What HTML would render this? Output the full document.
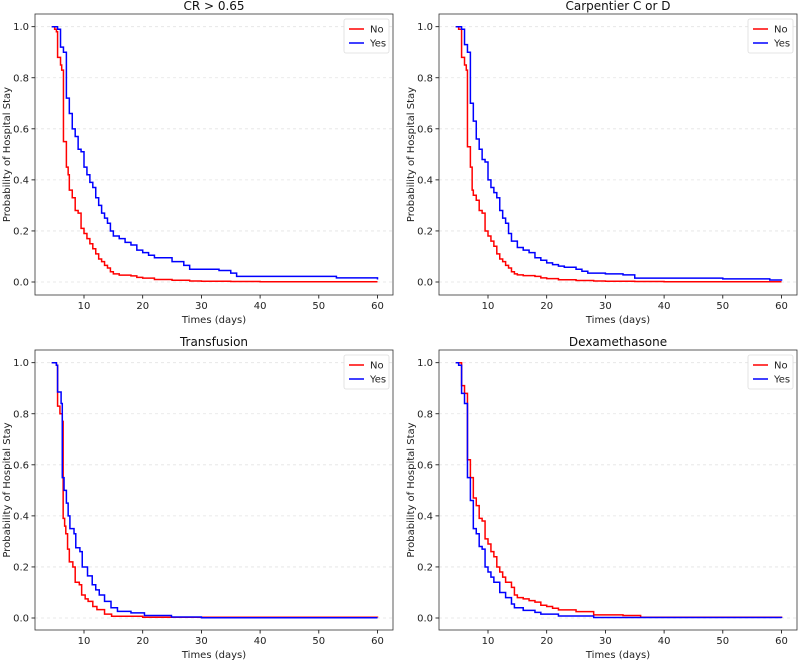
<!DOCTYPE html>
<html><head><meta charset="utf-8"><style>
html,body{margin:0;padding:0;background:#fff;}
svg{display:block;font-family:"DejaVu Sans","Liberation Sans",sans-serif;}
</style></head><body>
<svg id="fig" width="798" height="660" viewBox="0 0 798 660"></svg>
<script>
const panelTitles = ["CR > 0.65","Carpentier C or D","Transfusion","Dexamethasone"];
const seriesNames = ["No","Yes"];
const xTicks = [10,20,30,40,50,60];
const yTicks = [0,0.2,0.4,0.6,0.8,1.0];

const crNoT = [4.5,5,5.3,5.5,6,6.2,6.5,7,7.3,7.5,8,8.5,9,9.5,10,10.5,11,11.5,12,12.5,13,13.5,14,14.5,15,16,18,19,20,22,25,28,30,35,40,60];
const crNoS = [1,.99,.98,.88,.85,.83,.55,.45,.42,.36,.33,.28,.27,.21,.19,.17,.15,.13,.11,.09,.08,.065,.055,.04,.032,.027,.024,.018,.015,.01,.007,.004,.003,.002,.001,.001];
const crYesT = [4.5,5.5,6,6.5,7,7.5,8,8.5,9,9.5,10,10.5,11,11.5,12,12.5,13,13.5,14,14.5,15,16,17,18,19,20,21,22,25,27,28,33,35,36,53,60];
const crYesS = [1,.99,.92,.9,.72,.66,.6,.57,.52,.51,.45,.42,.39,.37,.33,.3,.27,.25,.23,.2,.18,.17,.155,.145,.125,.115,.105,.095,.08,.065,.05,.045,.035,.022,.016,.01];

const cpNoT = [4.5,5,5.5,6,6.3,6.5,7,7.3,7.5,8,8.5,9,9.5,10,10.5,11,11.5,12,12.5,13,13.5,14,14.5,15,16,18,19,20,22,25,28,30,35,40,60];
const cpNoS = [1,.99,.88,.85,.83,.53,.45,.36,.34,.32,.28,.27,.2,.18,.16,.14,.11,.09,.08,.065,.055,.04,.032,.028,.025,.022,.016,.013,.009,.006,.004,.003,.002,.001,.001];
const cpYesT = [4.5,5.5,6,6.5,7,7.5,8,8.5,9,9.5,10,10.5,11,11.5,12,12.5,13,13.5,14,15,16,17,18,19,20,21,22,23,25,26,27,30,33,35,50,58,60];
const cpYesS = [1,.99,.93,.9,.7,.63,.56,.52,.48,.47,.4,.37,.35,.33,.28,.25,.23,.19,.16,.135,.125,.115,.095,.085,.075,.068,.062,.058,.05,.042,.035,.032,.028,.015,.012,.008,.005];

const trNoT = [4.5,5.3,5.5,5.9,6.3,6.45,6.7,6.9,7.2,7.5,8.1,8.5,9.2,9.6,10.2,10.7,11.5,12.2,13.5,14.7,20,60];
const trNoS = [1,.99,.83,.8,.77,.39,.36,.33,.27,.22,.2,.14,.13,.09,.075,.065,.045,.033,.015,.007,.003,.002];
const trYesT = [4.5,5.3,5.5,6.1,6.3,6.6,7,7.3,7.6,8.3,8.6,9.3,9.7,10.6,11.4,12,12.6,13.5,14.6,15.7,18,20.3,24.9,30,60];
const trYesS = [1,.99,.885,.84,.55,.5,.45,.4,.35,.33,.275,.26,.2,.165,.13,.11,.09,.065,.04,.026,.02,.01,.004,.001,.001];

const dxNoT = [4.5,5.5,6,6.5,7,7.5,8,8.5,9,9.5,10,10.5,11,11.5,12,12.5,13,14,14.5,15,16,17,18,19,20,21,22,25,28,33,36,60];
const dxNoS = [1,.91,.88,.62,.55,.47,.44,.39,.38,.31,.29,.26,.24,.2,.18,.16,.14,.12,.09,.08,.075,.068,.062,.05,.045,.038,.032,.025,.012,.01,.003,0];
const dxYesT = [4.5,5,5.5,6,6.5,7,7.5,8,8.5,9,9.5,10,10.5,11,12,13,14,14.5,16,18,19,22,28,60];
const dxYesS = [1,.99,.88,.84,.55,.46,.35,.33,.28,.27,.2,.18,.16,.14,.1,.08,.055,.04,.03,.022,.015,.008,.002,0];

const panelData = [[[crNoT,crNoS],[crYesT,crYesS]],[[cpNoT,cpNoS],[cpYesT,cpYesS]],[[trNoT,trNoS],[trYesT,trYesS]],[[dxNoT,dxNoS],[dxYesT,dxYesS]]];

const NS="http://www.w3.org/2000/svg";
const svg=document.getElementById('fig');
function mk(tag,attrs,parent){const e=document.createElementNS(NS,tag);for(const k in attrs)e.setAttribute(k,attrs[k]);(parent||svg).appendChild(e);return e;}
const colors=["#ff0000","#0000ff"];
const layouts=[{l:35,r:393,t:14,b:295},{l:439,r:797,t:14,b:295},{l:35,r:393,t:350,b:630},{l:439,r:797,t:350,b:630}];
layouts.forEach((L,pi)=>{
  const g=mk('g',{});
  
  
  const x10=L.l+49, x60=L.l+342.5;
  const xs=v=>x10+(v-10)*(x60-x10)/50;
  const y1=L.t+12.7, y0=L.t+268;
  const ys=v=>y0+(y1-y0)*v;
  yTicks.forEach(v=>{
    const gl=mk('line',{x1:L.l,x2:L.r,y1:ys(v),y2:ys(v),stroke:'#e3e3e3','stroke-width':0.8,'stroke-dasharray':'3,3'},g);
    
    
    mk('line',{x1:L.l-3.5,x2:L.l,y1:ys(v),y2:ys(v),stroke:'#000','stroke-width':0.8},g);
    const t=mk('text',{x:L.l-6,y:ys(v)+3.5,'text-anchor':'end','font-size':10,fill:'#222'},g);
    t.textContent=v.toFixed(1);
    
    
  });
  xTicks.forEach(v=>{
    mk('line',{x1:xs(v),x2:xs(v),y1:L.b,y2:L.b+3.5,stroke:'#000','stroke-width':0.8},g);
    const t=mk('text',{x:xs(v),y:L.b+14,'text-anchor':'middle','font-size':10,fill:'#222'},g);
    t.textContent=v;
    
    
  });
  panelData[pi].forEach((s,si)=>{
    const [T,S]=s;let d='M'+xs(T[0])+','+ys(S[0]);
    for(let i=1;i<T.length;i++){d+=' H'+xs(T[i])+' V'+ys(S[i]);}
    const p=mk('path',{d:d,fill:'none',stroke:colors[si],'stroke-width':1.5},g);
    
    
  });
  const fr=mk('rect',{x:L.l,y:L.t,width:L.r-L.l,height:L.b-L.t,fill:'none',stroke:'#333','stroke-width':0.8},g);
  
  
  const tt=mk('text',{x:(L.l+L.r)/2,y:L.t-4,'text-anchor':'middle','font-size':12,fill:'#111'},g);
  tt.textContent=panelTitles[pi];
  
  
  const xl=mk('text',{x:(L.l+L.r)/2,y:L.b+28,'text-anchor':'middle','font-size':10,fill:'#222'},g);
  xl.textContent='Times (days)';
  
  
  const yl=mk('text',{x:0,y:0,'text-anchor':'middle','font-size':10,fill:'#222',transform:'translate('+(L.l-25)+','+((L.t+L.b)/2)+') rotate(-90)'},g);
  yl.textContent='Probability of Hospital Stay';
  
  
  const lg=mk('g',{},g);
  
  
  mk('rect',{x:L.r-49,y:L.t+5,width:45,height:34,fill:'#fff',stroke:'#ddd','stroke-width':0.8,rx:2},lg);
  seriesNames.forEach((n,si)=>{
    const yy=L.t+15+si*14;
    mk('line',{x1:L.r-44,x2:L.r-29,y1:yy,y2:yy,stroke:colors[si],'stroke-width':1.5},lg);
    const t=mk('text',{x:L.r-23,y:yy+3.5,'font-size':10,fill:'#222'},lg);
    t.textContent=n;
    
    
  });
});
</script>
</body></html>
